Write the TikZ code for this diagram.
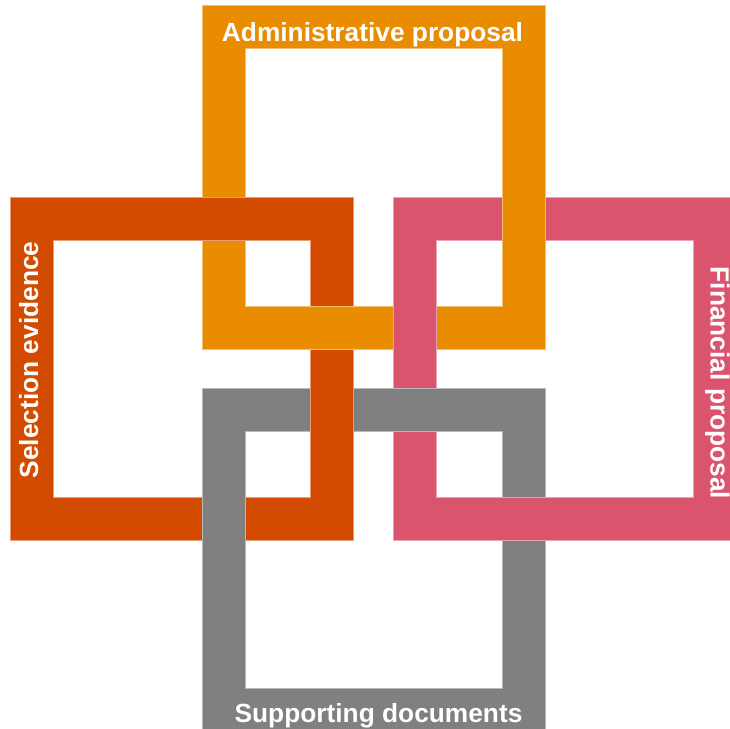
\documentclass[tikz,border=0pt]{standalone}
\usepackage{fontspec}
\setmainfont{Liberation Sans}
\definecolor{cOrange}{HTML}{EA8C00}
\definecolor{cRed}{HTML}{D24B00}
\definecolor{cPink}{HTML}{DB546D}
\definecolor{cGray}{HTML}{808080}
\tikzset{
  framefill/.style={fill=#1, draw=#1!55!white, line width=0.7pt, even odd rule},
  patchfill/.style={fill=#1},
  patchedge/.style={draw=#1!55!white, line width=0.7pt},
  lbl/.style={text=white, font=\bfseries\fontsize{26.3}{30}\selectfont, inner sep=0pt, anchor=base}
}
\begin{document}
\begin{tikzpicture}[x={(1pt,0)}, y={(0,-1pt)}]
\path[use as bounding box] (0,0) rectangle (730,728);
\clip (0,0) rectangle (730,728);
% frames
\path[framefill=cOrange] (202,5) rectangle (545,349) (245,48) rectangle (502,306);
\path[framefill=cRed] (10,197) rectangle (353,540) (53,240) rectangle (310,497);
\path[framefill=cPink] (393,197) rectangle (736,540) (436,240) rectangle (693,497);
\path[framefill=cGray] (202,388) rectangle (545,731) (245,431) rectangle (502,688);
% crossings where the earlier frame lies on top
\fill[patchfill=cOrange] (309,306) rectangle (354,349);
\draw[patchedge=cOrange] (308.5,306) -- (354.5,306) (308.5,349) -- (354.5,349);
\fill[patchfill=cOrange] (502,196) rectangle (545,241);
\draw[patchedge=cOrange] (502,195.5) -- (502,241.5) (545,195.5) -- (545,241.5);
\fill[patchfill=cRed] (310,387) rectangle (353,432);
\draw[patchedge=cRed] (310,386.5) -- (310,432.5) (353,386.5) -- (353,432.5);
\fill[patchfill=cPink] (501,497) rectangle (546,540);
\draw[patchedge=cPink] (500.5,497) -- (546.5,497) (500.5,540) -- (546.5,540);
% labels
\node[lbl] (adm) at (372.5,41) {Administrative proposal};
\node[lbl] (sup) at (378.5,722) {Supporting documents};
\node[lbl, rotate=90] (sel) at (38,360) {Selection evidence};
\node[lbl, rotate=-90] (fin) at (710.5,383) {Financial proposal};
\end{tikzpicture}
\end{document}
